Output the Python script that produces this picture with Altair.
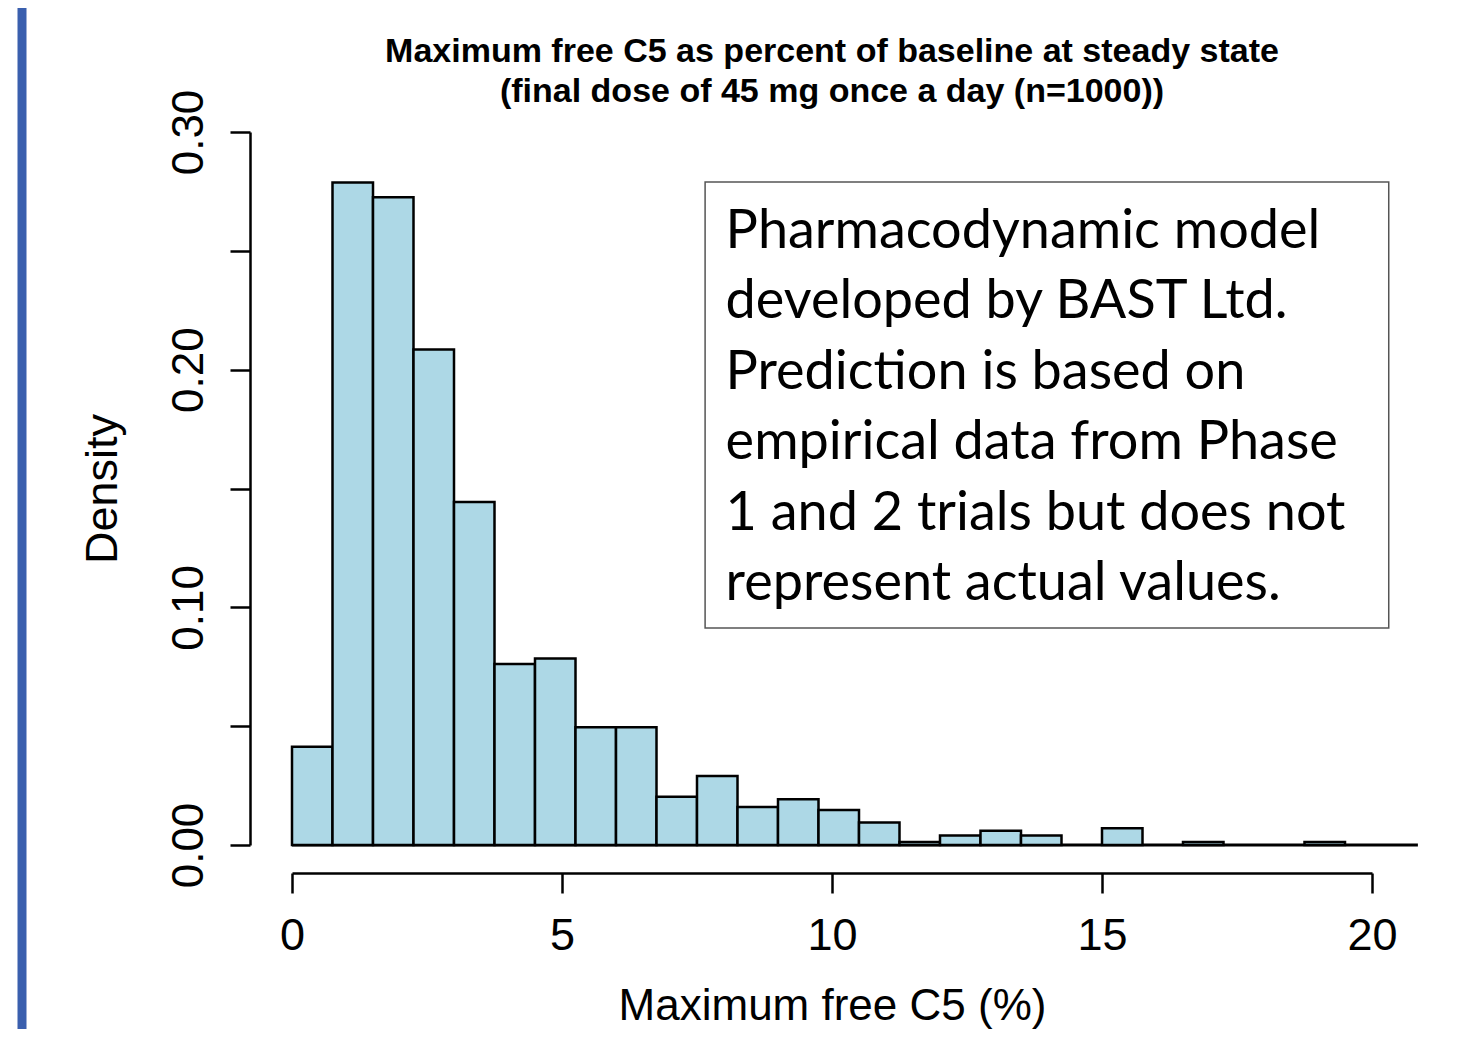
import altair as alt
import pandas as pd

# ---- data ----
bin_width = 0.75
density = [0.0413, 0.2787, 0.2725, 0.2085, 0.1443, 0.0762, 0.0785, 0.0495, 0.0495,
           0.0203, 0.0290, 0.0160, 0.0193, 0.0147, 0.0095, 0.0013, 0.0040, 0.0060,
           0.0040, 0.0, 0.0070, 0.0, 0.0013, 0.0, 0.0, 0.0013, 0.0]
baseline_end = 20.85

title_lines = ["Maximum free C5 as percent of baseline at steady state",
               "(final dose of 45 mg once a day (n=1000))"]
x_title = "Maximum free C5 (%)"
y_title = "Density"
x_ticks = [0, 5, 10, 15, 20]
y_ticks = [0.0, 0.05, 0.1, 0.15, 0.2, 0.25, 0.3]

note_lines = ["Pharmacodynamic model",
              "developed by BAST Ltd.",
              "Prediction is based on",
              "empirical data from Phase",
              "1 and 2 trials but does not",
              "represent actual values."]
note_box_x = [7.65, 20.31]
note_box_y = [0.0913, 0.2790]
note_text_x = 8.03
note_text_y = 0.2512

# ---- tables ----
bins = pd.DataFrame({
    "start": [i * bin_width for i in range(len(density))],
    "end": [(i + 1) * bin_width for i in range(len(density))],
    "density": density,
})
bins = bins[bins["density"] > 0]

base_df = pd.DataFrame({"x": [0.0], "x2": [baseline_end], "y": [0.0]})
box_df = pd.DataFrame({"x": [note_box_x[0]], "x2": [note_box_x[1]],
                       "y": [note_box_y[0]], "y2": [note_box_y[1]]})
note_df = pd.DataFrame({"x": [note_text_x], "y": [note_text_y]})

xscale = alt.Scale(domain=[0, 20], nice=False, zero=False)
yscale = alt.Scale(domain=[0, 0.3], nice=False)

x_axis = alt.Axis(values=x_ticks, title=x_title, offset=28, tickSize=20,
                  labelPadding=20, titlePadding=26, labelFontSize=45,
                  titleFontSize=44, labelFlush=False, grid=False)
y_axis = alt.Axis(values=y_ticks, title=y_title, offset=42, tickSize=20,
                  labelAngle=-90, labelPadding=19, titlePadding=42,
                  labelFontSize=44, titleFontSize=45, grid=False,
                  labelExpr="round(datum.value*100) % 10 == 0 ? format(datum.value, '.2f') : ''")

bars = alt.Chart(bins).mark_rect(fill="#ADD8E6", stroke="black", strokeWidth=2.5).encode(
    x=alt.X("start:Q", scale=xscale, axis=x_axis),
    x2="end:Q",
    y=alt.Y("density:Q", scale=yscale, axis=y_axis),
    y2=alt.datum(0),
)

baseline = alt.Chart(base_df).mark_rule(color="black", strokeWidth=3).encode(
    x=alt.X("x:Q", scale=xscale),
    x2="x2:Q",
    y=alt.Y("y:Q", scale=yscale),
)

box = alt.Chart(box_df).mark_rect(fill="white", fillOpacity=0, stroke="#555555",
                                  strokeWidth=1.5).encode(
    x=alt.X("x:Q", scale=xscale), x2="x2:Q",
    y=alt.Y("y:Q", scale=yscale), y2="y2:Q",
)

note = alt.Chart(note_df).mark_text(
    text=note_lines, align="left", baseline="alphabetic", font="Lato",
    fontSize=54, lineHeight=70.5, color="black",
).encode(
    x=alt.X("x:Q", scale=xscale),
    y=alt.Y("y:Q", scale=yscale),
)

title = alt.Chart(base_df).mark_text(
    text=title_lines, align="center", baseline="alphabetic",
    font="Liberation Sans, Arial, sans-serif", fontWeight="bold", fontSize=34,
    lineHeight=40, color="black",
).encode(x=alt.value(540), y=alt.value(-70))

side_bar = alt.Chart(base_df).mark_rule(color="#3a5fae", strokeWidth=9).encode(
    x=alt.value(-270), y=alt.value(-140), y2=alt.value(920)
)

chart = alt.layer(side_bar, baseline, bars, box, note, title).properties(
    width=1080,
    height=713,
    autosize=alt.AutoSizeParams(type="none"),
    padding={"left": 284, "top": 124, "right": 70, "bottom": 184},
).configure_view(stroke=None).configure_axis(
    domainColor="black", domainWidth=2.5, tickColor="black", tickWidth=2.5,
    labelFont="Liberation Sans", titleFont="Liberation Sans",
    labelColor="black", titleColor="black", titleFontWeight="normal",
)

chart.save("out.html", embed_options={"renderer": "svg", "actions": False})
